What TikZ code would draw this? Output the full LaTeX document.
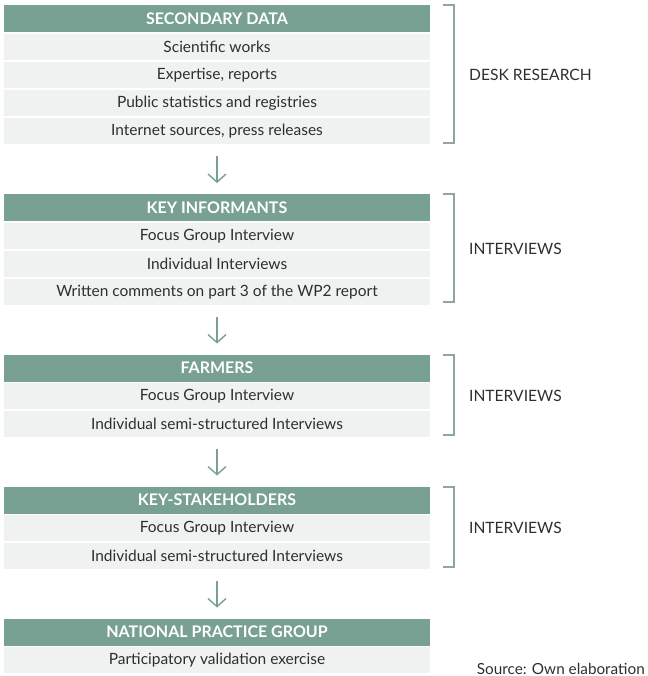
\documentclass[tikz,border=0pt]{standalone}
\usepackage{fontspec}
\setmainfont{Lato}
\usetikzlibrary{arrows.meta}
\definecolor{teal1}{HTML}{78A093}
\definecolor{rowbg}{HTML}{EFF2F1}
\definecolor{brk}{HTML}{8CA89E}
\definecolor{txt}{HTML}{2E2E2E}
\tikzset{
  hdr/.style={fill=teal1, text=white, font=\fontsize{16}{18}\selectfont\bfseries, minimum width=426pt, minimum height=27pt, inner sep=0pt, outer sep=0pt},
  rowbox/.style={fill=rowbg, text=txt, font=\fontsize{15.5}{18}\selectfont, minimum width=426pt, minimum height=26pt, inner sep=0pt, outer sep=0pt},
  flowarrow/.style={draw=teal1, line width=1.4pt, -{Straight Barb[length=8pt,width=18pt,line width=1.4pt]}, shorten <=12pt, shorten >=11pt},
  bracket/.style={draw=brk, line width=1.2pt},
  sidelabel/.style={text=txt, font=\fontsize{15.6}{18}\selectfont, anchor=west, inner sep=0pt}
}
\begin{document}
\begin{tikzpicture}[x=1pt,y=-1pt]
\useasboundingbox (0,0) rectangle (647,676);
% block 1
\node[hdr] (b1h) at (217,18.5) {SECONDARY DATA};
\node[rowbox] (b1r1) at (217,47) {Scientific works};
\node[rowbox] (b1r2) at (217,75) {Expertise, reports};
\node[rowbox] (b1r3) at (217,103) {Public statistics and registries};
\node[rowbox] (b1r4) at (217,131) {Internet sources, press releases};
\draw[bracket] (443,5) -- (454,5) -- (454,143) -- (443,143);
\node[sidelabel] (l1) at (469,75) {DESK RESEARCH};
% block 2
\node[hdr] (b2h) at (217,207.5) {KEY INFORMANTS};
\node[rowbox] (b2r1) at (217,236) {Focus Group Interview};
\node[rowbox] (b2r2) at (217,264) {Individual Interviews};
\node[rowbox] (b2r3) at (217,292) {Written comments on part 3 of the WP2 report};
\draw[bracket] (443,194) -- (454,194) -- (454,302) -- (443,302);
\node[sidelabel] (l2) at (469,249) {INTERVIEWS};
% block 3
\node[hdr] (b3h) at (217,368) {FARMERS};
\node[rowbox] (b3r1) at (217,396) {Focus Group Interview};
\node[rowbox] (b3r2) at (217,424) {Individual semi-structured Interviews};
\draw[bracket] (443,355) -- (454,355) -- (454,435) -- (443,435);
\node[sidelabel] (l3) at (469,396) {INTERVIEWS};
% block 4
\node[hdr] (b4h) at (217,500) {KEY-STAKEHOLDERS};
\node[rowbox] (b4r1) at (217,528) {Focus Group Interview};
\node[rowbox] (b4r2) at (217,556) {Individual semi-structured Interviews};
\draw[bracket] (443,487) -- (454,487) -- (454,567) -- (443,567);
\node[sidelabel] (l4) at (469,528) {INTERVIEWS};
% block 5
\node[hdr] (b5h) at (217,632) {NATIONAL PRACTICE GROUP};
\node[rowbox] (b5r1) at (217,660) {Participatory validation exercise};
\node[text=txt, font=\fontsize{15.3}{18}\selectfont, anchor=base east, inner sep=0pt] (src) at (645,674) {Source: Own elaboration};
% arrows
\draw[flowarrow] (b1r4.south) -- (b2h.north);
\draw[flowarrow] (b2r3.south) -- (b3h.north);
\draw[flowarrow] (b3r2.south) -- (b4h.north);
\draw[flowarrow] (b4r2.south) -- (b5h.north);
\end{tikzpicture}
\end{document}
